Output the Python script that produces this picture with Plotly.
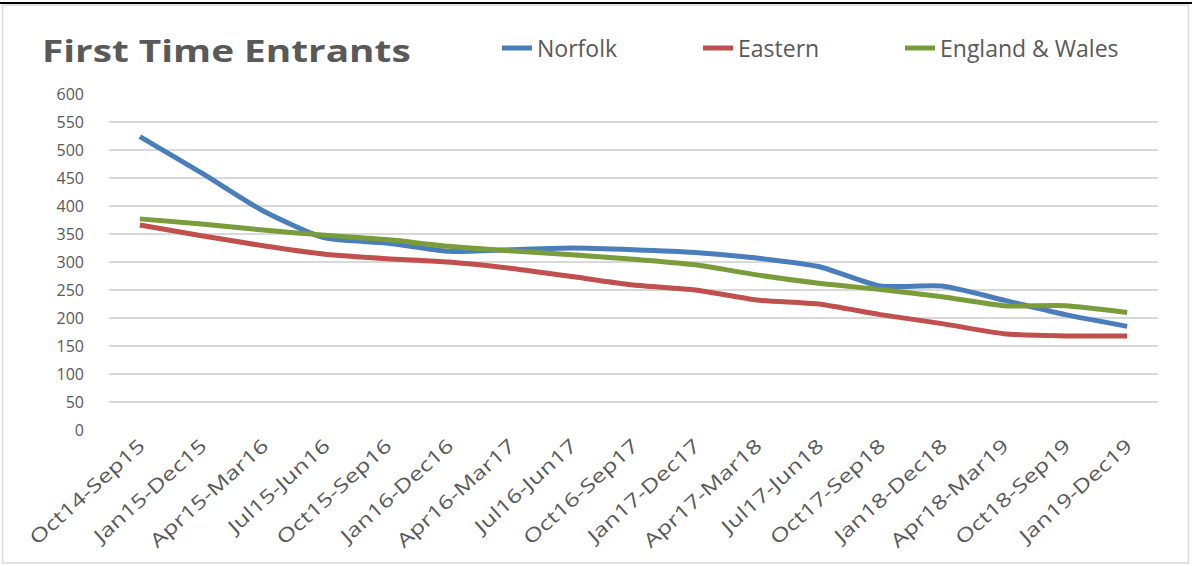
import plotly.graph_objects as go

# Rolling 12-month periods
periods = [
    "Oct14-Sep15", "Jan15-Dec15", "Apr15-Mar16", "Jul15-Jun16", "Oct15-Sep16",
    "Jan16-Dec16", "Apr16-Mar17", "Jul16-Jun17", "Oct16-Sep17", "Jan17-Dec17",
    "Apr17-Mar18", "Jul17-Jun18", "Oct17-Sep18", "Jan18-Dec18", "Apr18-Mar19",
    "Oct18-Sep19", "Jan19-Dec19",
]

# First time entrants per area
norfolk = [524, 459, 391, 343, 334, 319, 322, 325, 322, 317, 307, 292, 257, 257, 232, 206, 185]
eastern = [366, 347, 329, 314, 306, 300, 289, 274, 259, 250, 232, 225, 206, 190, 172, 168, 168]
england_wales = [377, 368, 357, 348, 340, 328, 320, 313, 305, 295, 277, 262, 251, 238, 222, 222, 210]

y_ticks = list(range(0, 601, 50))

series = [
    ("Norfolk", norfolk, "#4a7ebb", "legend"),
    ("Eastern", eastern, "#c0504d", "legend2"),
    ("England & Wales", england_wales, "#7a9c3a", "legend3"),
]

TEXT = "#595959"
FONT = "Open Sans"

fig = go.Figure()
for name, vals, color, leg in series:
    fig.add_trace(go.Scatter(
        x=periods, y=vals, name=name, mode="lines", legend=leg, showlegend=True,
        line=dict(color=color, width=5, shape="spline", smoothing=0.6),
    ))

# Plot area geometry in pixels
W, H = 1192, 566
L, R, T, B = 109, 34, 94, 136
pw, ph = W - L - R, H - T - B


def px_x(x):
    return (x - L) / pw


def px_y(y):
    return (H - B - y) / ph


def legend_at(x_px):
    return dict(
        orientation="h", x=px_x(x_px), y=px_y(48), xanchor="left", yanchor="middle",
        font=dict(size=23, color=TEXT, family=FONT), entrywidth=215,
        bgcolor="rgba(0,0,0,0)", visible=True,
    )


fig.update_layout(
    width=W, height=H,
    margin=dict(l=L, r=R, t=T, b=B),
    paper_bgcolor="white", plot_bgcolor="white",
    font=dict(family=FONT, color=TEXT, size=16),
    showlegend=True,
    legend=legend_at(497),
    legend2=legend_at(698),
    legend3=legend_at(900),
    xaxis=dict(
        type="category", range=[-0.5, len(periods) - 0.5],
        showgrid=False, zeroline=False, showline=False, ticks="",
        tickangle=-42, tickfont=dict(size=19, color=TEXT, family=FONT),
        fixedrange=True,
    ),
    yaxis=dict(
        range=[0, 600], tickvals=y_ticks, showgrid=True, gridcolor="#d9d9d9",
        gridwidth=1.5, zeroline=False, showline=False, ticks="",
        tickfont=dict(size=16, color=TEXT, family=FONT), ticklabelstandoff=24,
        fixedrange=True,
    ),
    annotations=[dict(
        text="<b>First Time Entrants</b>", x=px_x(40), y=px_y(50),
        xref="paper", yref="paper", xanchor="left", yanchor="middle", align="left",
        showarrow=False, font=dict(size=31, color=TEXT, family=FONT),
    )],
    shapes=[
        # chart frame
        dict(type="rect", xref="paper", yref="paper",
             x0=px_x(2.5), x1=px_x(1188.5), y0=px_y(563), y1=px_y(5),
             line=dict(color="#d9d9d9", width=1.5), layer="below"),
        # top rule
        dict(type="line", xref="paper", yref="paper",
             x0=px_x(0), x1=px_x(W), y0=px_y(3), y1=px_y(3),
             line=dict(color="black", width=2)),
    ],
)

# Widen the title and category lettering horizontally.
# Plotly draws asynchronously, so the widening is re-applied on every
# DOM change and on a short polling loop.
stretch_js = """
var gd = document.getElementById('{plot_id}');
function widen(sel, k) {
  gd.querySelectorAll(sel).forEach(function (t) {
    t.removeAttribute('textLength');
    var w = t.getComputedTextLength();
    if (!w) return;
    t.setAttribute('textLength', w * k);
    t.setAttribute('lengthAdjust', 'spacingAndGlyphs');
  });
}
function widenAll() {
  widen('text.annotation-text', 1.25);
  widen('.xtick text', 1.3);
}
widenAll();
new MutationObserver(widenAll).observe(gd, {childList: true, subtree: true});
var ticks = 0;
var timer = setInterval(function () {
  widenAll();
  if (++ticks > 300) clearInterval(timer);
}, 25);
"""

fig.write_html("out.html", post_script=stretch_js)
